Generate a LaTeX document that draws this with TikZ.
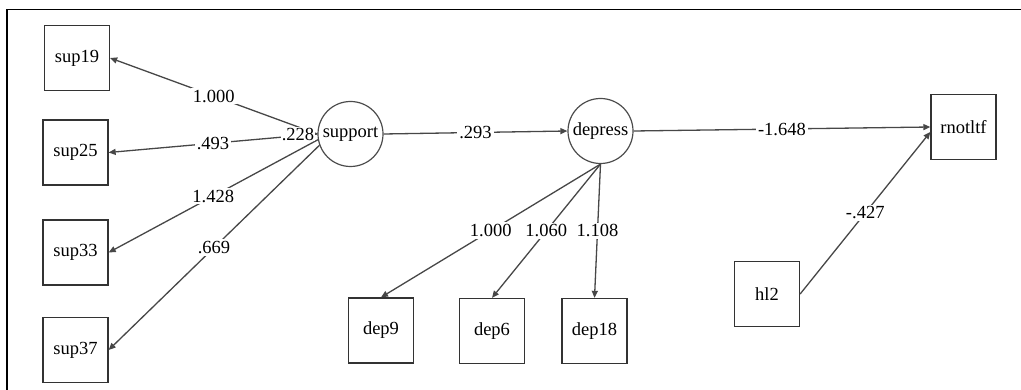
\documentclass[tikz,border=0pt]{standalone}
\usepackage{fontspec}
\setmainfont{Liberation Serif}
\usetikzlibrary{arrows.meta}
\begin{document}
\begin{tikzpicture}[x=1pt,y=-1pt,
  font=\fontsize{18.5}{21}\selectfont,
  obs/.style={draw=black!80,line width=1.3pt,minimum size=65pt,inner sep=0pt},
  lat/.style={draw=black!70,line width=1.2pt,circle,minimum size=65pt,inner sep=0pt},
  path/.style={draw=black!72,line width=1.3pt,-{Triangle[length=7pt,width=6pt]}},
  lbl/.style={fill=white,inner sep=2pt,pos=0.5}]
\useasboundingbox (0,0) rectangle (1021,390);
\draw[line width=1.4pt] (7,390) -- (7,9.5) -- (1021,9.5);
% observed
\node[obs] (sup19) at (77,58) {sup19};
\node[obs] (sup25) at (75.5,152.5) {sup25};
\node[obs] (sup33) at (75.5,252.5) {sup33};
\node[obs] (sup37) at (75.5,350) {sup37};
\node[obs] (dep9) at (381,330.5) {dep9};
\node[obs] (dep6) at (492,331) {dep6};
\node[obs] (dep18) at (594.5,331) {dep18};
\node[obs] (rnotltf) at (963.5,127) {rnotltf};
\node[obs] (hl2) at (767,294) {hl2};
% latent
\node[lat] (support) at (350.5,134) {support};
\node[lat] (depress) at (600.5,131) {depress};
% loadings
\draw[path] (support.west) -- node[lbl]{1.000} (sup19.east);
\draw[path] (support.west) -- node[lbl]{.493} (sup25.east);
\draw[path] (support.190) -- node[lbl]{1.428} (sup33.east);
\draw[path] (support.200) -- node[lbl]{.669} (sup37.east);
\node[fill=white,inner sep=1pt,anchor=east] (var) at ([xshift=-2pt]support.west) {.228};
\draw[path] (support.east) -- node[lbl]{.293} (depress.west);
\draw[path] (depress.south) -- node[lbl]{1.000} (dep9.north);
\draw[path] (depress.south) -- node[lbl]{1.060} (dep6.north);
\draw[path] (depress.south) -- node[lbl]{1.108} (dep18.north);
\draw[path] (depress.east) -- node[lbl]{-1.648} (rnotltf.west);
\draw[path] (hl2.east) -- node[lbl]{-.427} ([yshift=-5pt]rnotltf.west);
\end{tikzpicture}
\end{document}
